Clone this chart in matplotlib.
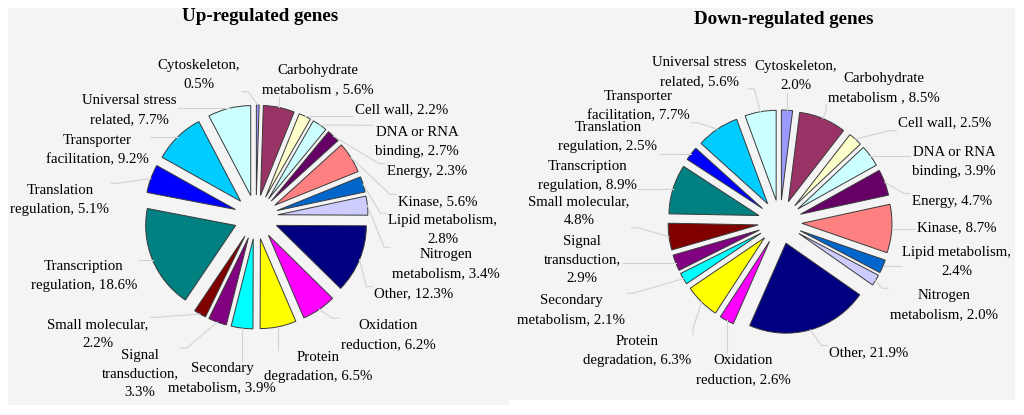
import numpy as np
import matplotlib
matplotlib.use("Agg")
import matplotlib.pyplot as plt
from matplotlib.patches import Rectangle

# ---------------- data ----------------
categories = ["Cytoskeleton", "Carbohydrate metabolism", "Cell wall", "DNA or RNA binding",
              "Energy", "Kinase", "Lipid metabolism", "Nitrogen metabolism", "Other",
              "Oxidation reduction", "Protein degradation", "Secondary metabolism",
              "Signal transduction", "Small molecular", "Transcription regulation",
              "Translation regulation", "Transporter facilitation", "Universal stress related"]
up_values = [0.5, 5.6, 2.2, 2.7, 2.3, 5.6, 2.8, 3.4, 12.3, 6.2, 6.5, 3.9, 3.3, 2.2, 18.6, 5.1, 9.2, 7.7]
down_values = [2.0, 8.5, 2.5, 3.9, 4.7, 8.7, 2.4, 2.0, 21.9, 2.6, 6.3, 2.1, 2.9, 4.8, 8.9, 2.5, 7.7, 5.6]
titles = ["Up-regulated genes", "Down-regulated genes"]

# label text templates (line breaks as in the original)
label_templates = ["Cytoskeleton,\n{}", "Carbohydrate\nmetabolism , {}", "Cell wall, {}",
                   "DNA or RNA\nbinding, {}", "Energy, {}", "Kinase, {}",
                   "Lipid metabolism,\n{}", "Nitrogen\nmetabolism, {}", "Other, {}",
                   "Oxidation\nreduction, {}", "Protein\ndegradation, {}",
                   "Secondary\nmetabolism, {}", "Signal\ntransduction,\n{}",
                   "Small molecular,\n{}", "Transcription\nregulation, {}",
                   "Translation\nregulation, {}", "Transporter\nfacilitation, {}",
                   "Universal stress\nrelated, {}"]

colors = ["#9999FF", "#993366", "#FFFFCC", "#CCFFFF", "#660066", "#FF8080", "#0066CC",
          "#CCCCFF", "#000080", "#FF00FF", "#FFFF00", "#00FFFF", "#800080", "#800000",
          "#008080", "#0000FF", "#00CCFF", "#CCFFFF"]

# ---------------- layout (pixel coordinates, y downward) ----------------
W, H = 1024, 415
panels = [(8, 8, 509, 405), (509, 8, 1015, 400)]
pie_centers = [(256, 217), (780, 222)]
pie_radius = 90
pie_explode = 22
title_pos = [(260, 17), (784, 20)]
up_label_pos = [(199, 75), (318, 80), (402, 110), (417, 142), (427, 171), (438, 202),
                (443, 230), (446, 264), (414, 294), (388, 335), (318, 367), (222, 378),
                (140, 374), (98, 334), (84, 276), (60, 200), (97, 150), (129, 110)]
down_label_pos = [(796, 76), (884, 88), (945, 123), (954, 162), (952, 201), (957, 228),
                  (957, 262), (944, 305), (869, 353), (743, 370), (637, 351), (571, 310),
                  (582, 260), (579, 211), (587, 176), (608, 137), (638, 106), (699, 72)]

serif = ["Liberation Serif", "DejaVu Serif"]

fig = plt.figure(figsize=(W / 100, H / 100), dpi=100)
fig.patch.set_facecolor("white")
ax = fig.add_axes([0, 0, 1, 1])


def fy(y):
    return H - y


for (x0, y0, x1, y1) in panels:
    ax.add_patch(Rectangle((x0, fy(y1)), x1 - x0, y1 - y0, facecolor="#F4F4F4",
                           edgecolor="none", zorder=0))

all_texts = []
for k, (vals, lpos) in enumerate([(up_values, up_label_pos), (down_values, down_label_pos)]):
    cx, cy = pie_centers[k]
    wedges, _ = ax.pie(vals, colors=colors, startangle=90, counterclock=False,
                       radius=pie_radius, center=(cx, fy(cy)),
                       explode=[pie_explode] * len(vals),
                       wedgeprops=dict(edgecolor="#3A3A3A", linewidth=0.7),
                       normalize=True)
    for i, v in enumerate(vals):
        txt = label_templates[i].format(f"{v:.1f}%")
        t = ax.text(lpos[i][0], fy(lpos[i][1]), txt, ha="center", va="center",
                    multialignment="center", fontsize=10.7, family=serif,
                    linespacing=1.55, color="black", zorder=5)
        all_texts.append((t, wedges[i]))
    ax.text(title_pos[k][0], fy(title_pos[k][1]), titles[k], ha="center", va="center",
            fontsize=13.7, fontweight="bold", family=serif, zorder=5)

ax.set_xlim(0, W)
ax.set_ylim(0, H)
ax.set_aspect("auto")
ax.axis("off")

fig.canvas.draw()
renderer = fig.canvas.get_renderer()
inv = ax.transData.inverted()
for t, w in all_texts:
    bb = t.get_window_extent(renderer)
    (bx0, by0), (bx1, by1) = inv.transform([(bb.x0 - 2, bb.y0 - 1), (bb.x1 + 2, bb.y1 + 1)])
    th = np.deg2rad((w.theta1 + w.theta2) / 2)
    px = w.center[0] + w.r * np.cos(th)
    py = w.center[1] + w.r * np.sin(th)
    qx = min(max(px, bx0), bx1)
    qy = min(max(py, by0), by1)
    if np.hypot(px - qx, py - qy) <= 5:
        continue
    # short elbow segment at the label end, as in spreadsheet leader lines
    if qx in (bx0, bx1) and abs(px - qx) > 10:
        ex, ey = qx + (6 if px > qx else -6), qy
    elif qy in (by0, by1) and abs(py - qy) > 10:
        ex, ey = qx, qy + (6 if py > qy else -6)
    else:
        ex, ey = qx, qy
    ax.plot([px, ex, qx], [py, ey, qy], color="#D2D2D2", linewidth=0.8, zorder=1,
            solid_joinstyle="miter")

fig.savefig("out.png", dpi=100, facecolor="white")
